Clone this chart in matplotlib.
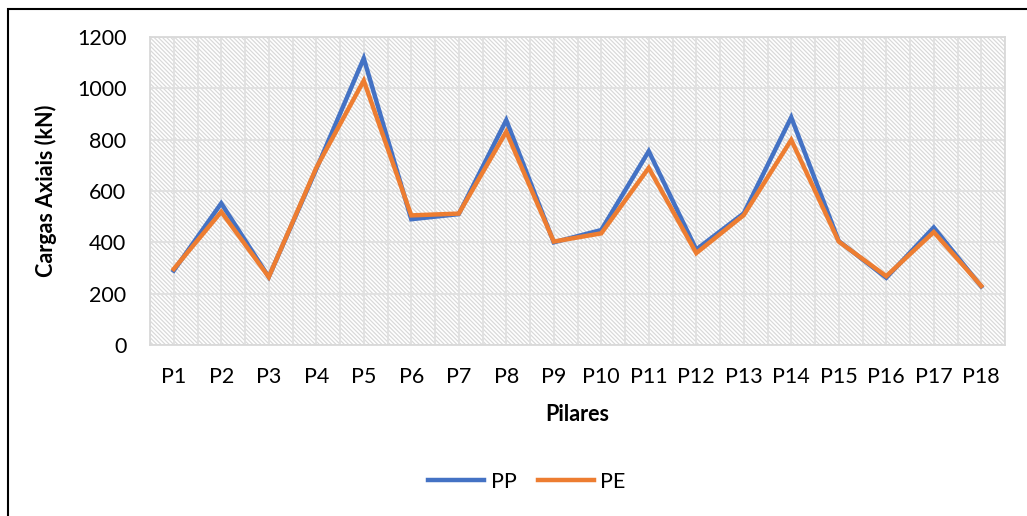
import numpy as np
import matplotlib.pyplot as plt
from matplotlib.patches import Rectangle

pilares = ["P%d" % i for i in range(1, 19)]
pp = [290, 552, 265, 685, 1117, 490, 510, 876, 400, 448, 755, 372, 513, 887, 405, 262, 458, 228]
pe = [296, 519, 265, 690, 1030, 505, 512, 831, 403, 435, 690, 358, 506, 799, 403, 268, 440, 230]

plt.rcParams['font.family'] = ['Lato', 'DejaVu Sans']
plt.rcParams['hatch.color'] = '#d9d9d9'
plt.rcParams['hatch.linewidth'] = 0.9

W, H = 1027, 516
fig = plt.figure(figsize=(W / 100, H / 100), dpi=100)
ax = fig.add_axes([150 / W, 1 - 345 / H, (1005 - 150) / W, (345 - 37) / H])

x = np.arange(len(pilares))

# hatched plot area background
ax.add_patch(Rectangle((0, 0), 1, 1, transform=ax.transAxes, facecolor='white',
                       edgecolor='#d9d9d9', hatch='\\' * 8, lw=0, zorder=0))

# vertical grid at every half category
for gx in np.arange(-0.5, len(pilares), 0.5):
    ax.axvline(gx, color='#e0e0e0', lw=1.3, zorder=1)

ax.plot(x, pp, color='#4472C4', lw=3.2, label='PP', zorder=3, solid_joinstyle='miter')
ax.plot(x, pe, color='#ED7D31', lw=3.2, label='PE', zorder=4, solid_joinstyle='miter')

ax.set_xlim(-0.5, len(pilares) - 0.5)
ax.set_ylim(0, 1200)
ax.set_yticks(np.arange(0, 1201, 200))
ax.set_xticks(x)
ax.set_xticklabels(pilares)
ax.grid(True, which='major', axis='y', color='#e0e0e0', lw=1.3, zorder=1)
ax.set_axisbelow(True)

for s in ax.spines.values():
    s.set_color('#d9d9d9')
    s.set_linewidth(1.3)

ax.tick_params(axis='both', which='both', length=0, labelsize=15.5, colors='black')
ax.tick_params(axis='y', pad=17)
ax.tick_params(axis='x', pad=16)

ax.set_xlabel('Pilares', fontsize=15.5, fontweight='bold', labelpad=12)
ax.set_ylabel('Cargas Axiais (kN)', fontsize=15.5, fontweight='bold', labelpad=14)

fig.legend(loc='center', bbox_to_anchor=(527 / W, 1 - 482 / H), ncol=2, frameon=False,
           fontsize=15.5, handlelength=2.6, columnspacing=1.0, handletextpad=0.3)

# black outer frame (image border)
fig.patches.append(Rectangle((8 / W, -0.1), 1.1, 1.1 - 9 / H, transform=fig.transFigure,
                             fill=False, edgecolor='black', lw=1.5))

fig.savefig('out.png', dpi=100)
plt.close(fig)
